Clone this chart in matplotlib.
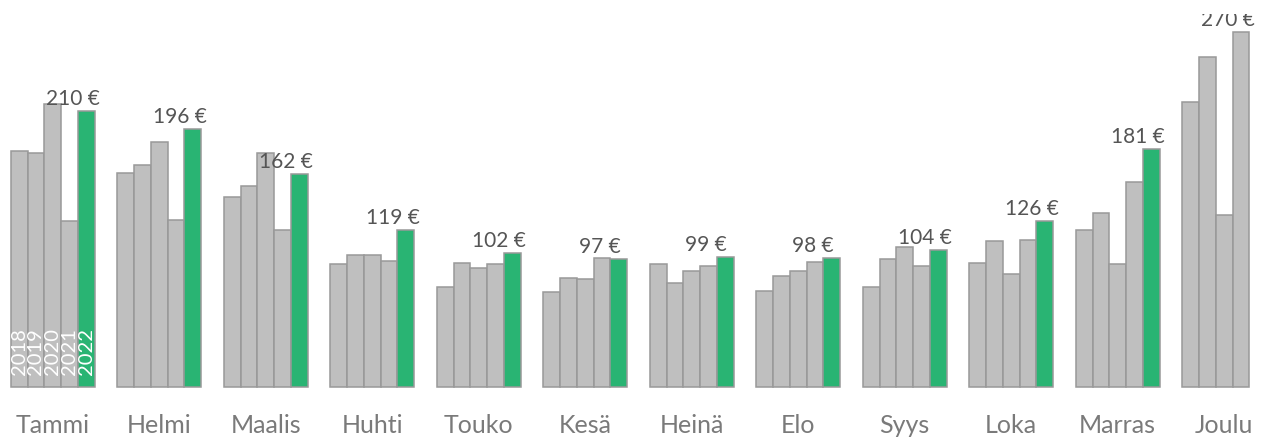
import matplotlib
matplotlib.use("Agg")
import matplotlib.pyplot as plt
import numpy as np

months = ["Tammi", "Helmi", "Maalis", "Huhti", "Touko", "Kesä",
          "Heinä", "Elo", "Syys", "Loka", "Marras", "Joulu"]
years = ["2018", "2019", "2020", "2021", "2022"]

v2018 = [179, 163, 144, 93, 76, 72, 93, 73, 76, 94, 119, 217]
v2019 = [178, 169, 153, 100, 94, 83, 79, 84, 97, 111, 132, 251]
v2020 = [215, 186, 178, 100, 90, 82, 88, 88, 106, 86, 93, 131]
v2021 = [126, 127, 119, 96, 93, 98, 92, 95, 92, 112, 156, 270]
v2022 = [210, 196, 162, 119, 102, 97, 99, 98, 104, 126, 181, None]
series = [v2018, v2019, v2020, v2021, v2022]

GREY = "#bfbfbf"
EDGE = "#999999"
GREEN = "#29b473"

W, H = 1273, 442
fig = plt.figure(figsize=(W / 100, H / 100), dpi=100)
top_px = 14
ax = fig.add_axes([0, 0, 1, (H - top_px) / H])
base_px = 386.7
scale = 1.314  # px per euro
ax.set_ylim(-(H - base_px) / scale, (base_px - top_px) / scale)
group_px = 106.5
first_center_px = 52.7
ax.set_xlim(-first_center_px / group_px, (W - first_center_px) / group_px)
ax.axis("off")

bw = 16.8 / group_px
x = np.arange(len(months))
px2pt = 0.72

for j, vals in enumerate(series):
    for i, v in enumerate(vals):
        if v is None:
            continue
        xc = x[i] + (j - 2) * bw
        color = GREEN if j == 4 else GREY
        ax.bar(xc, v, width=bw, color=color, edgecolor=EDGE, linewidth=1.1,
               zorder=2)

# value labels on last available bar in each group
for i in range(len(months)):
    last_j = max(j for j in range(len(series)) if series[j][i] is not None)
    v = series[last_j][i]
    xc = x[i] + (last_j - 2) * bw
    ax.annotate(f"{v} €", xy=(xc, v), xytext=(-40 * px2pt, 6 * px2pt),
                textcoords="offset points", ha="left", va="baseline",
                fontsize=15, color="#555555", family="Lato", zorder=4,
                annotation_clip=False, clip_on=True)

# year labels inside first group
for j, yr in enumerate(years):
    xc = x[0] + (j - 2) * bw
    ax.annotate(yr, xy=(xc, 0), xytext=(0, 12 * px2pt), textcoords="offset points",
                rotation=90, ha="center", va="bottom", fontsize=14.5,
                color="white", family="Lato", zorder=5)

# month labels
for i, m in enumerate(months):
    ax.text(x[i], -(433 - base_px) / scale, m, ha="center", va="baseline",
            fontsize=18, color="#7a7a7a", family="Lato", clip_on=False)

fig.savefig("out.png", dpi=100)
